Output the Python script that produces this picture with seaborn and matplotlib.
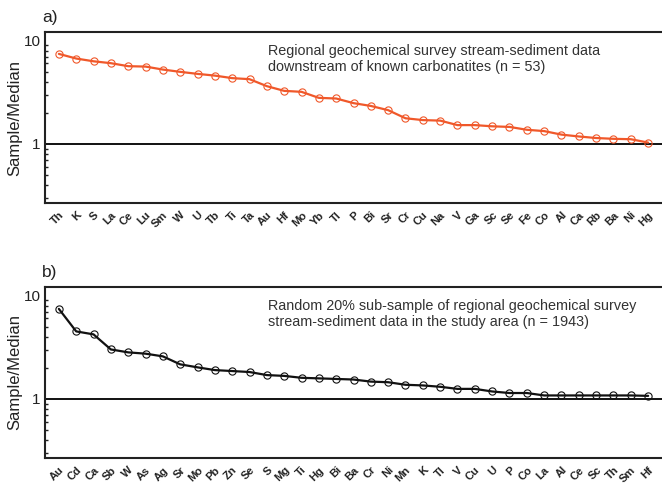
import matplotlib
matplotlib.use("Agg")
import matplotlib.pyplot as plt
import matplotlib.transforms as mtransforms
import seaborn as sns
import pandas as pd
import numpy as np

sns.set_theme(style="white")
plt.rcParams["font.family"] = ["Liberation Sans", "DejaVu Sans"]

# Panel a: stream-sediment samples downstream of known carbonatites
elements_a = ["Th", "K", "S", "La", "Ce", "Lu", "Sm", "W", "U", "Tb", "Ti", "Ta",
              "Au", "Hf", "Mo", "Yb", "Tl", "P", "Bi", "Sr", "Cr", "Cu", "Na", "V",
              "Ga", "Sc", "Se", "Fe", "Co", "Al", "Ca", "Rb", "Ba", "Ni", "Hg"]
ratio_a = [7.43, 6.70, 6.30, 6.04, 5.65, 5.60, 5.24, 4.98, 4.76, 4.58, 4.33, 4.23,
           3.62, 3.26, 3.19, 2.79, 2.75, 2.48, 2.33, 2.12, 1.77, 1.70, 1.68, 1.52,
           1.52, 1.48, 1.46, 1.37, 1.33, 1.23, 1.18, 1.14, 1.12, 1.11, 1.03]

# Panel b: random 20% sub-sample of the regional survey
elements_b = ["Au", "Cd", "Ca", "Sb", "W", "As", "Ag", "Sr", "Mo", "Pb", "Zn", "Se",
              "S", "Mg", "Ti", "Hg", "Bi", "Ba", "Cr", "Ni", "Mn", "K", "Tl", "V",
              "Cu", "U", "P", "Co", "La", "Al", "Ce", "Sc", "Th", "Sm", "Hf"]
ratio_b = [7.43, 4.50, 4.21, 3.01, 2.82, 2.74, 2.58, 2.16, 2.02, 1.90, 1.86, 1.82,
           1.70, 1.67, 1.60, 1.58, 1.56, 1.54, 1.47, 1.45, 1.37, 1.35, 1.31, 1.25,
           1.25, 1.18, 1.14, 1.14, 1.08, 1.08, 1.08, 1.08, 1.08, 1.08, 1.07]

panel_letters = ["a)", "b)"]
panel_notes = [
    "Regional geochemical survey stream-sediment data\ndownstream of known carbonatites (n = 53)",
    "Random 20% sub-sample of regional geochemical survey\nstream-sediment data in the study area (n = 1943)",
]
line_colors = ["#f0582a", "#111111"]

fig = plt.figure(figsize=(6.62, 4.83), dpi=100)
W, H = 662, 483
boxes = [(45, 32, 203), (45, 287, 458)]  # left, top, bottom in pixels

# nudge the rotated element labels a few pixels to the right
label_shift = mtransforms.ScaledTranslation(5 / 100, 0, fig.dpi_scale_trans)

panels = [(elements_a, ratio_a), (elements_b, ratio_b)]
for i, ((elems, vals), (left, top, bottom)) in enumerate(zip(panels, boxes)):
    ax = fig.add_axes([left / W, 1 - bottom / H, (W - left) / W, (bottom - top) / H])
    df = pd.DataFrame({"pos": np.arange(len(elems)), "ratio": vals})
    sns.lineplot(data=df, x="pos", y="ratio", ax=ax, color=line_colors[i],
                 linewidth=1.6, marker="o", markersize=5.2,
                 markerfacecolor="none", markeredgecolor=line_colors[i],
                 markeredgewidth=0.8)
    ax.set_yscale("log")
    ax.set_ylim(0.268, 12.1)
    ax.set_xlim(-0.8, len(elems) - 0.2)
    ax.axhline(1, color="#111111", linewidth=1.4, zorder=1)

    ax.set_xticks(np.arange(len(elems)))
    ax.set_xticklabels(elems, rotation=45, ha="right", rotation_mode="anchor",
                       fontsize=8, fontweight="bold", color="#222222")
    for lbl in ax.get_xticklabels():
        lbl.set_transform(lbl.get_transform() + label_shift)
    ax.tick_params(axis="x", length=0, pad=5)
    ax.set_yticks([1, 10])
    ax.set_yticklabels(["1", "10"], fontsize=11, color="#222222")
    ax.tick_params(axis="y", which="major", direction="in", length=3, width=1,
                   color="#222222", pad=3)
    ax.tick_params(axis="y", which="minor", direction="in", length=2.5, width=1,
                   color="#222222", left=True)
    ax.yaxis.set_minor_locator(matplotlib.ticker.LogLocator(base=10, subs=np.arange(2, 10)))
    ax.yaxis.set_minor_formatter(matplotlib.ticker.NullFormatter())

    for side in ["left", "top", "bottom"]:
        ax.spines[side].set_color("#222222")
        ax.spines[side].set_linewidth(1.5)
    ax.spines["right"].set_visible(False)

    ax.set_xlabel("")
    ax.set_ylabel("Sample/Median", fontsize=12, color="#222222", va="center")
    ax.yaxis.set_label_coords(-0.049, 0.5)
    ax.text(-0.005, 1.04, panel_letters[i], transform=ax.transAxes, fontsize=12.5,
            ha="left", va="bottom", color="#222222")
    ax.text(0.362, 0.93, panel_notes[i], transform=ax.transAxes, fontsize=10.4,
            ha="left", va="top", color="#333333", linespacing=1.15)

fig.savefig("out.png", dpi=100)
